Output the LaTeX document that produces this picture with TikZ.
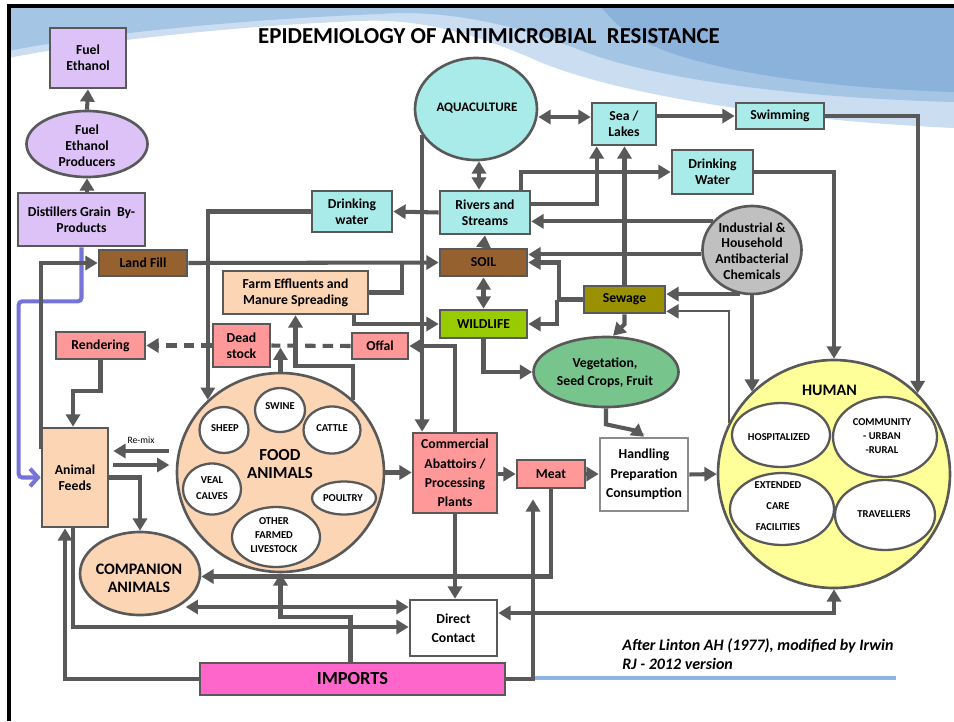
\documentclass[tikz,border=0pt]{standalone}
\usepackage{fontspec}
\setmainfont{Carlito}
\usetikzlibrary{arrows.meta,calc,shapes.geometric}
\newdimen\pxu
\pxu=0.02cm
\definecolor{gline}{HTML}{595959}
\definecolor{purp}{HTML}{DCC2F6}
\definecolor{brn}{HTML}{95612F}
\definecolor{cyn}{HTML}{A9EBE8}
\definecolor{pch}{HTML}{FCD5B4}
\definecolor{pnk}{HTML}{FF9999}
\definecolor{olv}{HTML}{999100}
\definecolor{lim}{HTML}{99CC00}
\definecolor{grn}{HTML}{77C48C}
\definecolor{gry}{HTML}{C0C0C0}
\definecolor{ylw}{HTML}{FFFF99}
\definecolor{mag}{HTML}{FF66CC}
\definecolor{bluel}{HTML}{7474D8}
\definecolor{skya}{HTML}{CADDF1}
\definecolor{skyb}{HTML}{A5C5E5}
\definecolor{skyc}{HTML}{8BB2DA}
\definecolor{hgray}{HTML}{8C8C8C}
\definecolor{bline}{HTML}{8DB4E2}
\pgfdeclarelayer{sky}
\pgfdeclarelayer{lines}
\pgfsetlayers{sky,lines,main}
\tikzset{
  bx/.style={draw=gline, line width=1.5pt, inner sep=1pt, align=center,
    font=\bfseries\fontsize{7.8}{9}\selectfont},
  el/.style={ellipse, draw=gline, line width=1.5pt, inner sep=0pt},
  inn/.style={ellipse, draw=gline, line width=1.3pt, fill=white, inner sep=0pt},
  lab/.style={align=center, inner sep=0pt, font=\bfseries\fontsize{7.8}{9}\selectfont},
  inlab/.style={align=center, inner sep=0pt, font=\bfseries\fontsize{6}{8.2}\selectfont},
  conn/.style={draw=gline, line width=2.3pt, -{Triangle[length=7pt,width=8pt]}},
  thinconn/.style={draw=gline, line width=1.3pt, -{Triangle[length=7pt,width=8pt]}},
  plainln/.style={draw=gline, line width=2.3pt},
  dbl/.style={draw=gline, line width=2.3pt, {Triangle[length=7pt,width=8pt]}-{Triangle[length=7pt,width=8pt]}},
  dashln/.style={draw=gline, line width=2.3pt, dash pattern=on 6pt off 4pt},
  blueln/.style={draw=bluel, line width=2.3pt, rounded corners=2pt, -{Straight Barb[length=4.5pt,width=10pt]}}
}
\begin{document}
\begin{tikzpicture}[x=0.02cm,y=-0.02cm]
\useasboundingbox (0,0) rectangle (954,721);
\begin{pgfonlayer}{sky}
\fill[white] (0,0) rectangle (954,721);
\fill[skya] (8,6) -- (954,6) -- (954,128) .. controls (780,120) and (620,95) .. (540,62)
  .. controls (480,35) and (420,18) .. (360,21) .. controls (250,25) and (100,40) .. (8,58) -- cycle;
\fill[skyb] (8,6) -- (954,6) -- (954,102) .. controls (800,98) and (660,80) .. (585,52)
  .. controls (520,26) and (450,9) .. (380,14) .. controls (250,19) and (100,33) .. (8,51) -- cycle;
\fill[skyc] (600,6) -- (954,6) -- (954,92) .. controls (820,88) and (700,70) .. (645,42)
  .. controls (620,28) .. (600,6) -- cycle;
\draw[black, line width=1.8pt] (9,721) -- (9,6) -- (954,6);
\end{pgfonlayer}

% title and notes
\node[font=\bfseries\fontsize{13}{15}\selectfont] (title) at (489,36) {EPIDEMIOLOGY OF ANTIMICROBIAL\ \ RESISTANCE};

% nodes
\node[bx, fill=purp, minimum width=76\pxu, minimum height=60\pxu] (fuel) at (88,58) {Fuel\\Ethanol};
\node[el, fill=purp, minimum width=121\pxu, minimum height=66\pxu] (prod) at (87,144) {};
\node[lab] (prodT) at (87,146) {Fuel\\Ethanol\\Producers};
\node[bx, fill=purp, minimum width=127\pxu, minimum height=53\pxu] (dist) at (81.5,219.5) {Distillers Grain\ \ By-\\Products};
\node[bx, fill=brn, minimum width=88\pxu, minimum height=26\pxu] (landfill) at (143,263) {Land Fill};
\node[bx, fill=cyn, minimum width=80\pxu, minimum height=41\pxu] (dwl) at (352,211.5) {Drinking\\water};
\node[el, fill=cyn, minimum width=122\pxu, minimum height=102\pxu] (aqua) at (476,109) {};
\node[lab, font=\bfseries\fontsize{7.4}{9}\selectfont] (aquaT) at (477,108) {AQUACULTURE};
\node[bx, fill=cyn, minimum width=64\pxu, minimum height=42\pxu] (sea) at (624,124) {Sea /\\Lakes};
\node[bx, fill=cyn, minimum width=88\pxu, minimum height=26\pxu] (swim) at (780,116) {Swimming};
\node[bx, fill=cyn, minimum width=81\pxu, minimum height=44\pxu] (dwr) at (712.5,172) {Drinking\\Water};
\node[bx, fill=cyn, minimum width=90\pxu, minimum height=43\pxu] (rivers) at (485,212.5) {Rivers and\\Streams};
\node[el, fill=gry, minimum width=99\pxu, minimum height=88\pxu] (indus) at (752,250) {};
\node[lab] (indusT) at (752,251) {Industrial \&\\Household\\Antibacterial\\Chemicals};
\node[bx, fill=brn, minimum width=87\pxu, minimum height=27\pxu] (soil) at (483.5,262.5) {SOIL};
\node[bx, fill=pch, minimum width=145\pxu, minimum height=43\pxu] (farm) at (295.5,292.5) {Farm Effluents and\\Manure Spreading};
\node[bx, fill=olv, minimum width=81\pxu, minimum height=27\pxu] (sewage) at (624.5,299.5) {Sewage};
\node[bx, fill=lim, minimum width=87\pxu, minimum height=28\pxu] (wild) at (483.5,324) {WILDLIFE};
\node[bx, fill=pnk, minimum width=89\pxu, minimum height=27\pxu] (rend) at (100.5,345.5) {Rendering};
\node[bx, fill=pnk, minimum width=57\pxu, minimum height=43\pxu] (dead) at (241.5,345.5) {Dead\\stock};
\node[bx, fill=pnk, minimum width=56\pxu, minimum height=26\pxu] (offal) at (380,346) {Offal};
\node[el, fill=grn, minimum width=145\pxu, minimum height=70\pxu] (veg) at (606,372) {};
\node[lab, font=\bfseries\fontsize{7.8}{10}\selectfont] (vegT) at (605,373) {Vegetation,\\Seed Crops, Fruit};

\node[el, fill=pch, minimum width=207\pxu, minimum height=199\pxu] (food) at (280.5,472.5) {};
\node[lab, font=\bfseries\fontsize{9.6}{10.5}\selectfont] (foodT) at (280,464) {FOOD\\ANIMALS};
\node[inn, minimum width=50\pxu, minimum height=44\pxu] (swine) at (280,410) {};
\node[inlab] (swineT) at (280,406) {SWINE};
\node[inn, minimum width=49\pxu, minimum height=46\pxu] (sheep) at (224,430) {};
\node[inlab] (sheepT) at (225,428) {SHEEP};
\node[inn, minimum width=57\pxu, minimum height=47\pxu] (cattle) at (332,430) {};
\node[inlab] (cattleT) at (332,428) {CATTLE};
\node[inn, minimum width=58\pxu, minimum height=51\pxu] (veal) at (212,489) {};
\node[inlab, font=\bfseries\fontsize{6}{9.2}\selectfont] (vealT) at (212,488) {VEAL\\CALVES};
\node[inn, minimum width=64\pxu, minimum height=33\pxu] (poultry) at (344,498) {};
\node[inlab] (poultryT) at (343,498) {POULTRY};
\node[inn, minimum width=88\pxu, minimum height=60\pxu] (other) at (276,537) {};
\node[inlab] (otherT) at (274,535) {OTHER\\FARMED\\LIVESTOCK};

\node[bx, fill=pch, minimum width=66\pxu, minimum height=99\pxu] (feeds) at (75,477.5) {Animal\\Feeds};
\node[el, fill=pch, minimum width=120\pxu, minimum height=83\pxu] (comp) at (140,573.5) {};
\node[lab, font=\bfseries\fontsize{9.1}{10.3}\selectfont] (compT) at (139,578) {COMPANION\\ANIMALS};
\node[bx, fill=pnk, minimum width=84\pxu, minimum height=80\pxu, font=\bfseries\fontsize{7.8}{11}\selectfont] (comm) at (455,473) {Commercial\\Abattoirs /\\Processing\\Plants};
\node[bx, fill=pnk, minimum width=68\pxu, minimum height=28\pxu] (meat) at (551,474) {Meat};
\node[bx, fill=white, draw=hgray, minimum width=88\pxu, minimum height=73\pxu, font=\bfseries\fontsize{7.8}{11}\selectfont] (hand) at (644,474.5) {Handling\\Preparation\\Consumption};

\node[el, fill=ylw, minimum width=232\pxu, minimum height=228\pxu] (human) at (834,474) {};
\node[lab, font=\bfseries\fontsize{9.1}{10}\selectfont] (humanT) at (829.5,390) {HUMAN};
\node[inn, minimum width=98\pxu, minimum height=64\pxu] (hosp) at (781,435) {};
\node[inlab] (hospT) at (779,437) {HOSPITALIZED};
\node[inn, minimum width=104\pxu, minimum height=80\pxu] (commu) at (885,437) {};
\node[inlab] (commuT) at (882,436) {COMMUNITY\\- URBAN\\-RURAL};
\node[inn, minimum width=104\pxu, minimum height=72\pxu] (ext) at (782,509) {};
\node[inlab, font=\bfseries\fontsize{6}{12}\selectfont] (extT) at (778,506) {EXTENDED\\CARE\\FACILITIES};
\node[inn, minimum width=100\pxu, minimum height=70\pxu] (trav) at (885,515) {};
\node[inlab] (travT) at (884,514) {TRAVELLERS};

\node[bx, fill=white, minimum width=87\pxu, minimum height=56\pxu, font=\bfseries\fontsize{7.8}{11}\selectfont] (direct) at (453.5,628) {Direct\\Contact};
\node[bx, fill=mag, minimum width=305\pxu, minimum height=32\pxu, font=\bfseries\fontsize{10.5}{12}\selectfont] (imports) at (352.5,679) {IMPORTS};

\node[anchor=north west, align=left, inner sep=0pt, font=\bfseries\itshape\fontsize{9.1}{11}\selectfont] (attr) at (622,638) {After Linton AH (1977), modified by Irwin\\RJ - 2012 version};
\node[font=\fontsize{5.5}{6}\selectfont, inner sep=0pt] (remix) at (141,440) {Re-mix};

\coordinate (seaIn) at ($(sea.west)+(0,-7)$);
\coordinate (rvE) at ($(rivers.north east)+(0,14)$);
\coordinate (seaS) at ($(sea.south west)+(6,0)$);

\begin{pgfonlayer}{lines}
\draw[bline, line width=1.8pt] ($(imports.east)+(29,-1)$) -- ++(361,0);
\draw[conn] (prod.north) -- (fuel.south);
\draw[conn] (prod.south |- dist.north) -- (prod.south);
\draw[blueln] (dist.south) -- ++(0,54) -| ($(feeds.west)+(-22,0)$) -- (feeds.west);
\draw[conn] ($(feeds.north west)+(0,22)$) |- (landfill.west);
\draw[conn] (landfill.east) -- (soil.west);
\draw[plainln] (farm.east) -| ($(soil.west)+(-37,0)$);
\draw[conn] ($(farm.south east)+(-15,0)$) |- (wild.west);
\draw[conn] (dwl.west) -| (food.135);
\draw[conn] (rivers.west) -- (dwl.east);
\draw[conn] (aqua.206) -- (aqua.206 |- comm.north);
\draw[dbl] (aqua.east |- seaIn) -- (seaIn);
\draw[dbl] ($(rivers.north)+(-6,0)$) -- ($(aqua.south)+(3,0)$);
\draw[conn] (sea.east |- swim.west) -- (swim.west);
\draw[conn] (swim.east) -| (human.44);
\draw[conn] (dwr.east) -| (human.north);
\draw[conn] (rvE) -| (seaS);
\draw[conn] ($(rivers.north east)+(-10,0)$) |- (dwr.west);
\draw[conn] (sewage.north) -- (sewage.north |- sea.south);
\draw[conn] (sewage.south) -- ++(0,10) -- ($(veg.north)+(7,0)$);
\draw[conn] (indus.144) -- (indus.144 -| rivers.east);
\draw[conn] (indus.185) -- (indus.185 -| soil.east);
\draw[conn] (indus.255) -- (indus.255 -| sewage.east);
\draw[conn] (indus.south) -- (indus.south |- human.135);
\draw[thinconn] (human.154) |- ($(sewage.south east)+(0,-3)$);
\draw[conn] (sewage.west) -| ($(soil.east)+(31,0)$) -- (soil.east);
\draw[conn] ($(sewage.west)+(-26,0)$) |- (wild.east);
\draw[conn] (soil.north) -- (rivers.south);
\draw[dbl] (soil.south) -- (wild.north);
\draw[conn] (wild.south) |- (veg.west);
\draw[conn] (veg.south) -- ++(0,16) -- ($(hand.north)+(-8,-6)$) -- (hand.north);
\draw[conn] (hand.east) -- (human.west);
\draw[conn] (meat.east) -- (meat.east -| hand.west);
\draw[conn] (comm.east |- meat.west) -- (meat.west);
\draw[conn] (food.east) -- (food.east -| comm.west);
\draw[conn] (comm.north) |- (offal.east);
\draw[dashln] (offal.west) -- (dead.east);
\draw[dashln, -{Triangle[length=7pt,width=8pt]}] (dead.west) -- (rend.east);
\draw[conn] (food.north) -- ++(0,-24);
\draw[conn] (food.45) -- ++(0,-34) -| (farm.south);
\draw[conn] (rend.south) -- ++(0,31) -| ($(feeds.north)+(-2,0)$);
\draw[conn] ($(feeds.east)+(60,-26.5)$) -- ($(feeds.east)+(4,-26.5)$);
\draw[conn] ($(feeds.east)+(4,-12.5)$) -- ($(feeds.east)+(60,-12.5)$);
\draw[conn] (feeds.east) -| (comp.north);
\draw[conn] (imports.west) -| ($(feeds.south)+(-10,0)$);
\draw[conn] ($(feeds.south)+(-2,0)$) |- ($(direct.west)+(0,-1)$);
\draw[dbl] ($(direct.west)+(0,-21)$) -- ($(direct.west)+(-223,-21)$);
\draw[conn] (meat.south) |- ($(comp.east)+(0,3)$);
\draw[conn] ($(imports.north)+(-2,0)$) -- ++(0,-45) -| (food.south);
\draw[conn] (imports.east) -| ($(meat.south)+(-18,10)$);
\draw[conn] (comm.south) -- (comm.south |- direct.north);
\draw[dbl] ($(direct.east)+(0,-15)$) -| (human.south);
\end{pgfonlayer}
\end{tikzpicture}
\end{document}
